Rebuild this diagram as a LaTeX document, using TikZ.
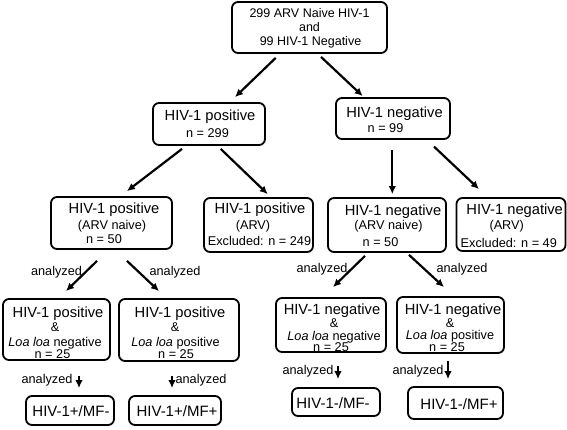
\documentclass[tikz,border=0pt]{standalone}
\usepackage{fontspec}
\setmainfont{Liberation Sans}
\usetikzlibrary{arrows.meta}
\newcommand\fTp{\fontsize{12.5}{14}\selectfont}
\newcommand\fHd{\fontsize{14.7}{16}\selectfont}
\newcommand\fSb{\fontsize{12.7}{14}\selectfont}
\newcommand\fBt{\fontsize{15}{16}\selectfont}
\newcommand\fLb{\fontsize{12.7}{14}\selectfont}
\begin{document}
\begin{tikzpicture}[x=1pt,y=-1pt,
  box/.style={draw, line width=1.8pt, rounded corners=6pt, inner sep=0pt},
  txt/.style={anchor=base, inner sep=0pt, outer sep=0pt},
  arr/.style={line width=2.2pt, -{Latex[length=8pt,width=7.5pt]}}]
\useasboundingbox (0,0) rectangle (567,429);
% boxes
\node[box, minimum width=155pt, minimum height=51pt] (top) at (309.5,27.5) {};
\node[box, minimum width=112pt, minimum height=42pt] (pos2) at (209,124) {};
\node[box, minimum width=114pt, minimum height=41pt] (neg2) at (393,118.5) {};
\node[box, minimum width=121pt, minimum height=52pt] (pos3a) at (111.5,223) {};
\node[box, minimum width=109pt, minimum height=54pt] (pos3b) at (258.5,225) {};
\node[box, minimum width=118pt, minimum height=54pt] (neg3a) at (387,225) {};
\node[box, minimum width=109pt, minimum height=53pt] (neg3b) at (511,224.5) {};
\node[box, minimum width=107pt, minimum height=61pt] (pos4a) at (56.5,329.5) {};
\node[box, minimum width=120pt, minimum height=62pt] (pos4b) at (179,330) {};
\node[box, minimum width=110pt, minimum height=54pt] (neg4a) at (331,325) {};
\node[box, minimum width=107pt, minimum height=56pt] (neg4b) at (450.5,325) {};
\node[box, minimum width=88pt, minimum height=29pt] (pos5a) at (70,410.5) {};
\node[box, minimum width=92pt, minimum height=29pt] (pos5b) at (175,410.5) {};
\node[box, minimum width=88pt, minimum height=28pt] (neg5a) at (336,402) {};
\node[box, minimum width=95pt, minimum height=32pt] (neg5b) at (455.5,403) {};
% texts
\node[txt, font=\fTp] (t1) at (309.5,17.5) {299 ARV Naive HIV-1};
\node[txt, font=\fTp] (t2) at (309.5,31.5) {and};
\node[txt, font=\fTp] (t3) at (310.5,45.5) {99 HIV-1 Negative};
\node[txt, font=\fHd] (p2a) at (210,120.3) {HIV-1 positive};
\node[txt, font=\fSb] (p2b) at (207.5,137.6) {n = 299};
\node[txt, font=\fHd] (n2a) at (394.5,117) {HIV-1 negative};
\node[txt, font=\fSb] (n2b) at (385.5,132.6) {n = 99};
\node[txt, font=\fHd] (p3aa) at (114,213.3) {HIV-1 positive};
\node[txt, font=\fSb] (p3ab) at (112,229.6) {(ARV naive)};
\node[txt, font=\fSb] (p3ac) at (104,243.6) {n = 50};
\node[txt, font=\fHd] (p3ba) at (260,213.3) {HIV-1 positive};
\node[txt, font=\fSb] (p3bb) at (253,229.6) {(ARV)};
\node[txt, font=\fSb] (p3bc) at (259.5,245.6) {Excluded: n = 249};
\node[txt, font=\fHd] (n3aa) at (393,215.3) {HIV-1 negative};
\node[txt, font=\fSb] (n3ab) at (388.5,229.6) {(ARV naive)};
\node[txt, font=\fSb] (n3ac) at (380.5,246.6) {n = 50};
\node[txt, font=\fHd] (n3ba) at (514.7,214.3) {HIV-1 negative};
\node[txt, font=\fSb] (n3bb) at (506.7,229.6) {(ARV)};
\node[txt, font=\fSb] (n3bc) at (508.8,247.6) {Excluded: n = 49};
\node[txt, font=\fHd] (p4aa) at (58,317.3) {HIV-1 positive};
\node[txt, font=\fSb] (p4ab) at (55,331.6) {\&};
\node[txt, font=\fSb] (p4ac) at (55,346.6) {\textit{Loa loa} negative};
\node[txt, font=\fSb] (p4ad) at (52.5,358.6) {n = 25};
\node[txt, font=\fHd] (p4ba) at (180,317.3) {HIV-1 positive};
\node[txt, font=\fSb] (p4bb) at (175,331.6) {\&};
\node[txt, font=\fSb] (p4bc) at (175.5,346.6) {\textit{Loa loa} positive};
\node[txt, font=\fSb] (p4bd) at (176,358.6) {n = 25};
\node[txt, font=\fHd] (n4aa) at (332,314.8) {HIV-1 negative};
\node[txt, font=\fSb] (n4ab) at (334,327) {\&};
\node[txt, font=\fSb] (n4ac) at (334,340.3) {\textit{Loa loa} negative};
\node[txt, font=\fSb] (n4ad) at (331,351.8) {n = 25};
\node[txt, font=\fHd] (n4ba) at (453,314) {HIV-1 negative};
\node[txt, font=\fSb] (n4bb) at (450,327) {\&};
\node[txt, font=\fSb] (n4bc) at (450,339.6) {\textit{Loa loa} positive};
\node[txt, font=\fSb] (n4bd) at (447,351.8) {n = 25};
\node[txt, font=\fBt] (p5a) at (71,416.4) {HIV-1+/MF-};
\node[txt, font=\fBt] (p5b) at (177,416.4) {HIV-1+/MF+};
\node[txt, font=\fBt] (n5a) at (333,408.5) {HIV-1-/MF-};
\node[txt, font=\fBt] (n5b) at (459,409.5) {HIV-1-/MF+};
% labels
\node[txt, font=\fLb] (l1) at (56.5,275) {analyzed};
\node[txt, font=\fLb] (l2) at (175,275) {analyzed};
\node[txt, font=\fLb] (l3) at (322,272) {analyzed};
\node[txt, font=\fLb] (l4) at (462,272) {analyzed};
\node[txt, font=\fLb] (l5) at (47,383) {analyzed};
\node[txt, font=\fLb] (l6) at (201,383) {analyzed};
\node[txt, font=\fLb] (l7) at (308,374) {analyzed};
\node[txt, font=\fLb] (l8) at (418,374) {analyzed};
% arrows
\draw[arr] ([xshift=-33.8pt,yshift=-4pt]top.south) -- ([xshift=26pt,yshift=5pt]pos2.north);
\draw[arr] ([xshift=11.5pt,yshift=-3pt]top.south) -- ([xshift=-30.3pt,yshift=1pt]neg2.north);
\draw[arr] ([xshift=-27pt,yshift=-3pt]pos2.south) -- ([xshift=15.5pt,yshift=5pt]pos3a.north);
\draw[arr] ([xshift=11.7pt,yshift=-3pt]pos2.south) -- ([xshift=9.2pt,yshift=3pt]pos3b.north);
\draw[arr] ([xshift=-0.7pt,yshift=-10pt]neg2.south) -- ([xshift=5.3pt,yshift=3pt]neg3a.north);
\draw[arr] ([xshift=41pt,yshift=-6.7pt]neg2.south) -- ([xshift=-32pt,yshift=8pt]neg3b.north);
\draw[arr] ([xshift=-14.5pt,yshift=-11pt]pos3a.south) -- ([xshift=9.5pt,yshift=7pt]pos4a.north);
\draw[arr] ([xshift=15.5pt,yshift=-11pt]pos3a.south) -- ([xshift=-20pt,yshift=7pt]pos4b.north);
\draw[arr] ([xshift=-22pt,yshift=-3pt]neg3a.south) -- ([xshift=2pt,yshift=10pt]neg4a.north);
\draw[arr] ([xshift=22pt,yshift=-2pt]neg3a.south) -- ([xshift=-6.5pt,yshift=9pt]neg4b.north);
\draw[arr] ([xshift=22.5pt,yshift=-15pt]pos4a.south) -- ([xshift=9pt,yshift=7pt]pos5a.north);
\draw[arr] ([xshift=-7pt,yshift=-14pt]pos4b.south) -- ([xshift=-3pt,yshift=7pt]pos5b.north);
\draw[arr] ([xshift=7pt,yshift=-13pt]neg4a.south) -- ([xshift=2pt,yshift=8pt]neg5a.north);
\draw[arr] ([xshift=-2.5pt,yshift=-7pt]neg4b.south) -- ([xshift=-7.5pt,yshift=7pt]neg5b.north);
\end{tikzpicture}
\end{document}
